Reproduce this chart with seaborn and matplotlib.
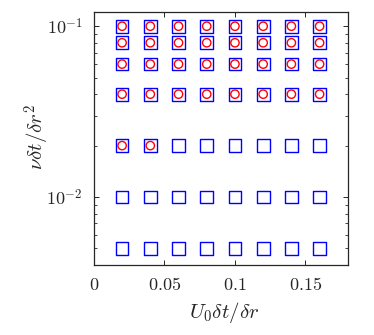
import numpy as np
import pandas as pd
import matplotlib
matplotlib.use("Agg")
import matplotlib.pyplot as plt
import matplotlib.ticker as mticker
import seaborn as sns

# grid of tested parameters
courant = [0.02, 0.04, 0.06, 0.08, 0.10, 0.12, 0.14, 0.16]
diffusion = [0.005, 0.01, 0.02, 0.04, 0.06, 0.08, 0.1]
# stable runs (red circles): all courant for diffusion >= 0.04, plus two at 0.02
stable_x = courant * 4 + [0.02, 0.04]
stable_y = [0.04] * 8 + [0.06] * 8 + [0.08] * 8 + [0.1] * 8 + [0.02, 0.02]

xx, yy = np.meshgrid(courant, diffusion)
df_all = pd.DataFrame({"U": xx.ravel(), "nu": yy.ravel()})
df_stable = pd.DataFrame({"U": stable_x, "nu": stable_y})

sns.set_style("ticks")
plt.rcParams["mathtext.fontset"] = "cm"
plt.rcParams["font.family"] = ["DejaVu Serif"]

fig = plt.figure(figsize=(3.74, 3.35), dpi=100)
ax = fig.add_axes([0.251, 0.209, 0.679, 0.755])

sns.scatterplot(data=df_all, x="U", y="nu", marker="s", s=85, color="blue",
                facecolor="none", edgecolor="blue", linewidth=1.0, ax=ax, zorder=2)
sns.scatterplot(data=df_stable, x="U", y="nu", marker="o", s=36, color="red",
                facecolor="none", edgecolor="red", linewidth=1.0, ax=ax, zorder=3)

ax.set_yscale("log")
ax.set_xlim(0, 0.18)
ax.set_ylim(0.004, 0.121)

ax.xaxis.set_major_locator(mticker.FixedLocator([0, 0.05, 0.1, 0.15]))
ax.xaxis.set_major_formatter(mticker.FixedFormatter([r"$0$", r"$0.05$", r"$0.1$", r"$0.15$"]))
ax.yaxis.set_major_locator(mticker.FixedLocator([0.01, 0.1]))
ax.yaxis.set_major_formatter(mticker.FixedFormatter([r"$10^{-2}$", r"$10^{-1}$"]))
ax.yaxis.set_minor_locator(mticker.LogLocator(base=10, subs=np.arange(2, 10)))
ax.yaxis.set_minor_formatter(mticker.NullFormatter())

ax.tick_params(which="both", direction="in", top=True, right=True, color="#262626")
ax.tick_params(which="major", length=3.5, width=0.7, labelsize=13, pad=8)
ax.tick_params(which="minor", length=2, width=0.6)
for sp in ax.spines.values():
    sp.set_linewidth(0.9)
    sp.set_color("#262626")

ax.set_xlabel(r"$U_0\delta t/\delta r$", fontsize=15)
ax.set_ylabel(r"$\nu\delta t/\delta r^2$", fontsize=15)
ax.xaxis.set_label_coords(0.512, -0.186)
ax.yaxis.set_label_coords(-0.224, 0.506)
ax.xaxis.label.set_verticalalignment("center")
ax.yaxis.label.set_verticalalignment("center")

fig.savefig("out.png", dpi=100)
